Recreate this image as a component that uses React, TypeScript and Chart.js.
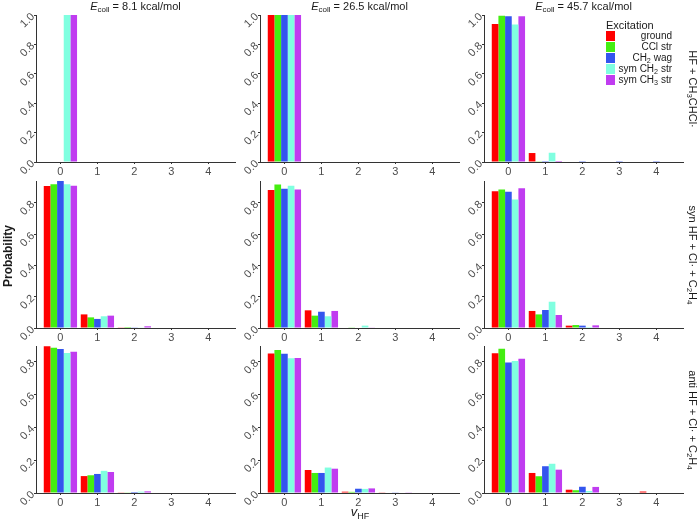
import { useEffect, useRef } from 'react';
import Chart from 'chart.js/auto';

const vLevels = [0, 1, 2, 3, 4];
const modes = ['ground', 'CCl str', 'CH₂ wag', 'sym CH₂ str', 'sym CH₃ str'];
const modeColors = ['#ff0000', '#44ee11', '#3355ee', '#80ffe0', '#c03cf0'];
const energies = ['8.1', '26.5', '45.7'];
const channels = ['HF + CH₃CHCl·', 'syn HF + Cl· + C₂H₄', 'anti HF + Cl· + C₂H₄'];
const rowMax = [1.0, 0.94, 0.895];
const yTicks = [0, 0.2, 0.4, 0.6, 0.8, 1.0];

// each panel: one row per excitation mode, one column per v_HF level
const radical8 = [
  [0, 0, 0, 0, 0],
  [0, 0, 0, 0, 0],
  [0, 0, 0, 0, 0],
  [1.0, 0, 0, 0, 0],
  [1.0, 0, 0, 0, 0],
];
const radical26 = [
  [1.0, 0, 0, 0, 0],
  [1.0, 0, 0, 0, 0],
  [1.0, 0, 0, 0, 0],
  [1.0, 0, 0, 0, 0],
  [1.0, 0, 0, 0, 0],
];
const radical45 = [
  [0.939, 0.061, 0, 0, 0],
  [0.995, 0.005, 0, 0, 0],
  [0.992, 0.006, 0.001, 0.001, 0.001],
  [0.935, 0.063, 0, 0, 0],
  [0.992, 0.007, 0, 0, 0],
];
const syn8 = [
  [0.908, 0.087, 0.002, 0, 0],
  [0.919, 0.068, 0.006, 0, 0],
  [0.94, 0.058, 0.002, 0, 0],
  [0.919, 0.075, 0.004, 0, 0],
  [0.91, 0.079, 0.011, 0, 0],
];
const syn26 = [
  [0.882, 0.113, 0.003, 0, 0],
  [0.917, 0.079, 0.002, 0, 0],
  [0.891, 0.104, 0.003, 0, 0],
  [0.91, 0.075, 0.015, 0, 0],
  [0.885, 0.109, 0.004, 0, 0],
];
const syn45 = [
  [0.874, 0.109, 0.015, 0, 0],
  [0.885, 0.087, 0.019, 0, 0],
  [0.872, 0.115, 0.015, 0, 0],
  [0.821, 0.168, 0.006, 0, 0],
  [0.893, 0.083, 0.017, 0, 0],
];
const anti8 = [
  [0.894, 0.103, 0.002, 0, 0],
  [0.885, 0.108, 0.004, 0, 0],
  [0.876, 0.116, 0.006, 0, 0],
  [0.852, 0.135, 0.008, 0, 0],
  [0.86, 0.128, 0.01, 0, 0],
];
const anti26 = [
  [0.85, 0.14, 0.008, 0.002, 0],
  [0.871, 0.122, 0.007, 0, 0],
  [0.848, 0.122, 0.026, 0.004, 0],
  [0.82, 0.155, 0.025, 0, 0],
  [0.822, 0.148, 0.028, 0.002, 0],
];
const anti45 = [
  [0.851, 0.122, 0.02, 0, 0.009],
  [0.878, 0.102, 0.017, 0.003, 0],
  [0.795, 0.163, 0.038, 0.003, 0],
  [0.803, 0.178, 0.012, 0.003, 0],
  [0.818, 0.142, 0.037, 0.003, 0],
];
const panels = [
  [radical8, radical26, radical45],
  [syn8, syn26, syn45],
  [anti8, anti26, anti45],
];

const colLeft = [36, 260, 484];
const rowTop = [15, 181, 346];
const plotW = 199;
const plotH = 147;
const YW = 34;
const PT = 12;
const PR = 4;
const XH = 19;
const font = '"Liberation Sans", Arial, sans-serif';
const axisColor = '#333333';
const tickColor = '#4d4d4d';

const subDigits = { '₂': '2', '₃': '3', '₄': '4' };

// render unicode subscript digits as small lowered text
const withSubs = (text) =>
  Array.from(text).map((ch, i) =>
    subDigits[ch] ? (
      <span key={i} style={{ fontSize: '72%', position: 'relative', top: '0.3em' }}>
        {subDigits[ch]}
      </span>
    ) : (
      ch
    )
  );

const Panel = ({ values, max, left, top }) => {
  const ref = useRef(null);

  useEffect(() => {
    const chart = new Chart(ref.current, {
      type: 'bar',
      data: {
        datasets: modes.map((m, i) => ({
          label: m,
          data: vLevels.map((v, j) => ({ x: v, y: values[i][j] })),
          backgroundColor: modeColors[i],
          borderWidth: 0,
          categoryPercentage: 0.9,
          barPercentage: 1.0,
        })),
      },
      options: {
        animation: false,
        responsive: false,
        events: [],
        layout: { padding: { top: PT, right: PR, left: 0, bottom: 0 } },
        plugins: { legend: { display: false }, tooltip: { enabled: false } },
        scales: {
          x: {
            type: 'linear',
            offset: false,
            min: -0.66,
            max: 4.72,
            afterBuildTicks: (s) => {
              s.ticks = vLevels.map((v) => ({ value: v }));
            },
            afterFit: (s) => {
              s.height = XH;
            },
            grid: { display: true, offset: false, drawOnChartArea: false, drawTicks: true, tickLength: 2, color: axisColor },
            border: { display: true, color: axisColor, width: 1 },
            ticks: {
              color: tickColor,
              font: { family: font, size: 11 },
              maxRotation: 0,
              minRotation: 0,
              padding: 1,
              callback: (v) => String(v),
            },
          },
          y: {
            min: 0,
            max,
            afterBuildTicks: (s) => {
              s.ticks = yTicks.filter((t) => t <= max + 1e-9).map((t) => ({ value: t }));
            },
            afterFit: (s) => {
              s.width = YW;
            },
            grid: { display: true, drawOnChartArea: false, drawTicks: true, tickLength: 2, color: axisColor },
            border: { display: true, color: axisColor, width: 1 },
            ticks: {
              color: tickColor,
              font: { family: font, size: 11 },
              minRotation: 45,
              maxRotation: 45,
              padding: 1,
              callback: (v) => Number(v).toFixed(1),
            },
          },
        },
      },
    });

    return () => {
      chart.destroy();
    };
  }, [values, max]);

  const w = YW + plotW + PR;
  const h = PT + plotH + XH;
  return (
    <canvas
      ref={ref}
      width={w}
      height={h}
      style={{ position: 'absolute', left: left - YW, top: top - PT, width: w, height: h }}
    />
  );
};

const App = () => {
  return (
    <div
      style={{
        position: 'fixed',
        left: 0,
        top: 0,
        width: 700,
        height: 519,
        background: '#ffffff',
        fontFamily: font,
        color: '#1a1a1a',
        overflow: 'hidden',
      }}
    >
      {panels.map((row, r) =>
        row.map((values, c) => (
          <Panel key={r + '-' + c} values={values} max={rowMax[r]} left={colLeft[c]} top={rowTop[r]} />
        ))
      )}

      {energies.map((e, c) => (
        <div
          key={'t' + c}
          style={{
            position: 'absolute',
            left: colLeft[c] + plotW / 2,
            top: 0,
            transform: 'translateX(-50%)',
            fontSize: 11,
            lineHeight: '12px',
            whiteSpace: 'nowrap',
          }}
        >
          <i>E</i>
          <span style={{ fontSize: 8, position: 'relative', top: 2 }}>coll</span> = {e} kcal/mol
        </div>
      ))}

      {channels.map((ch, r) => (
        <div
          key={'s' + r}
          style={{
            position: 'absolute',
            left: 693,
            top: rowTop[r] + plotH / 2,
            transform: 'translate(-50%, -50%) rotate(90deg)',
            fontSize: 11,
            whiteSpace: 'nowrap',
          }}
        >
          {withSubs(ch)}
        </div>
      ))}

      <div
        style={{
          position: 'absolute',
          left: 8,
          top: 256,
          transform: 'translate(-50%, -50%) rotate(-90deg)',
          fontSize: 12,
          fontWeight: 'bold',
          whiteSpace: 'nowrap',
        }}
      >
        Probability
      </div>

      <div
        style={{
          position: 'absolute',
          left: 360,
          top: 511,
          transform: 'translate(-50%, -50%)',
          fontSize: 13,
          whiteSpace: 'nowrap',
        }}
      >
        <i>v</i>
        <span style={{ fontSize: 9, position: 'relative', top: 3 }}>HF</span>
      </div>

      <div style={{ position: 'absolute', left: 606, top: 19, fontSize: 11, lineHeight: '12px' }}>Excitation</div>
      {modes.map((m, i) => (
        <div key={'l' + i}>
          <div
            style={{
              position: 'absolute',
              left: 606,
              top: 31 + i * 11,
              width: 9,
              height: 10,
              background: modeColors[i],
            }}
          />
          <div
            style={{
              position: 'absolute',
              right: 700 - 672,
              top: 30 + i * 11,
              fontSize: 10,
              lineHeight: '11px',
              whiteSpace: 'nowrap',
              textAlign: 'right',
            }}
          >
            {withSubs(m)}
          </div>
        </div>
      ))}
    </div>
  );
};

export default App;
